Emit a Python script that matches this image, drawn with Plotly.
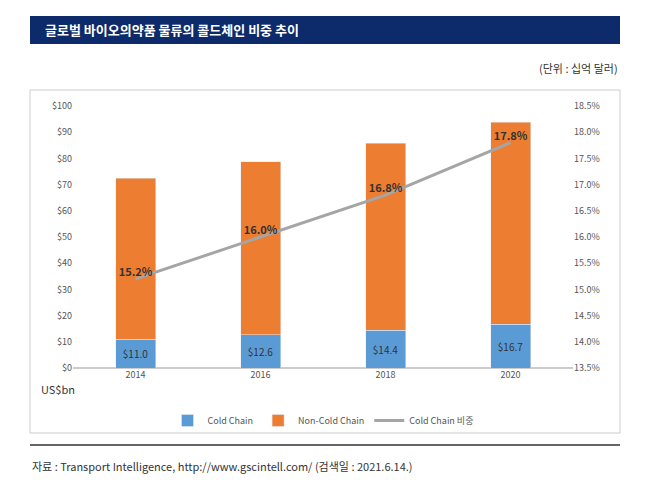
import plotly.graph_objects as go

years = ["2014", "2016", "2018", "2020"]
cold = [11.0, 12.6, 14.4, 16.7]
noncold = [61.5, 66.2, 71.4, 77.1]
share = [15.2, 16.0, 16.8, 17.8]

fig = go.Figure()
fig.add_bar(x=years, y=cold, name="Cold Chain", marker_color="#5B9BD5",
            text=[f"${v:.1f}" for v in cold], textposition="inside",
            insidetextanchor="middle", textfont=dict(color="#333", size=10))
fig.add_bar(x=years, y=noncold, name="Non-Cold Chain", marker_color="#ED7D31")
fig.add_scatter(x=years, y=share, name="Cold Chain 비중", yaxis="y2", mode="lines+text",
                line=dict(color="#A5A5A5", width=3),
                text=[f"<b>{v:.1f}%</b>" for v in share], textposition="top center",
                textfont=dict(color="#333", size=11))
for x, c, n in zip(years, cold, noncold):
    fig.add_annotation(x=x, y=c + 6, text=f"${n:.1f}", showarrow=False,
                       font=dict(size=10, color="#333"))

def fy(px):
    return 1 - (px - 98) / 262

fig.update_layout(
    width=651, height=483, barmode="stack", bargap=0.68,
    paper_bgcolor="white", plot_bgcolor="white",
    margin=dict(l=65, r=86, t=98, b=123, autoexpand=False),
    font=dict(family="Noto Sans CJK KR", size=10, color="#555"),
    xaxis=dict(showline=False, ticks="", tickfont=dict(size=9)),
    yaxis=dict(range=[0, 100], dtick=10, tickprefix="$", showgrid=False,
               zeroline=True, zerolinecolor="#ccc", tickfont=dict(size=9)),
    yaxis2=dict(range=[13.5, 18.5], dtick=0.5, ticksuffix="%", tickformat=".1f",
                overlaying="y", side="right", showgrid=False, tickfont=dict(size=9)),
    legend=dict(orientation="h", x=0.5, xanchor="center", y=fy(398), yanchor="top",
                font=dict(size=9), traceorder="normal", bgcolor="rgba(0,0,0,0)"),
    shapes=[
        dict(type="rect", xref="paper", yref="paper", x0=-43/500, x1=1+47/500,
             y0=fy(425), y1=fy(82), line=dict(color="#ccc", width=1)),
        dict(type="line", xref="paper", yref="paper", x0=-43/500, x1=1+47/500,
             y0=fy(437), y1=fy(437), line=dict(color="#333", width=1.5)),
        dict(type="rect", xref="paper", yref="paper", x0=-43/500, x1=1+47/500,
             y0=fy(36), y1=fy(8), fillcolor="#0D2A6B", line=dict(width=0)),
    ],
    annotations=[
        dict(xref="paper", yref="paper", x=-0.06, y=fy(22), xanchor="left", yanchor="middle",
             showarrow=False, text="<b>글로벌 바이오의약품 물류의 콜드체인 비중 추이</b>",
             font=dict(size=13, color="white")),
        dict(xref="paper", yref="paper", x=1+47/500, y=fy(60), xanchor="right", yanchor="middle",
             showarrow=False, text="(단위 : 십억 달러)", font=dict(size=11, color="#333")),
        dict(xref="paper", yref="paper", x=-0.03, y=fy(381), xanchor="center", yanchor="middle",
             showarrow=False, text="US$bn", font=dict(size=11, color="#333")),
        dict(xref="paper", yref="paper", x=-43/500, y=fy(458), xanchor="left", yanchor="middle",
             showarrow=False,
             text="자료 : Transport Intelligence, http://www.gscintell.com/ (검색일 : 2021.6.14.)",
             font=dict(size=11, color="#333")),
    ],
)
fig.write_html("out.html")
